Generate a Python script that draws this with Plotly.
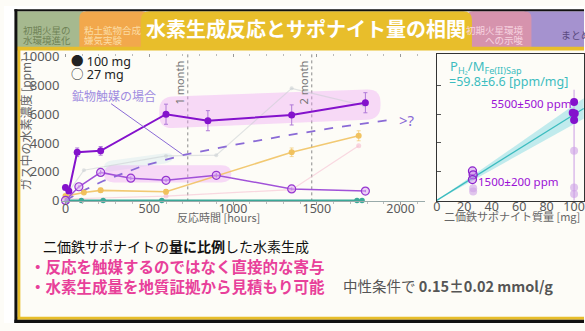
import plotly.graph_objects as go

W, H = 585, 331

# ---------------- data ----------------
# H2 concentration vs. reaction time
t_100 = [0, 20, 70, 210, 600, 850, 1350, 1790]
h2_100 = [900, 650, 3350, 3450, 6000, 5550, 5950, 6800]
err_100 = [150, 150, 300, 300, 700, 700, 700, 700]

t_27 = [0, 80, 210, 390, 600, 900, 1350, 1790]
h2_27 = [0, 950, 1950, 1550, 1400, 1750, 800, 650]
err_27 = [60, 100, 150, 120, 120, 150, 100, 80]

t_or = [0, 110, 210, 600, 1350, 1750]
h2_or = [300, 550, 700, 600, 3350, 4500]
err_or = [100, 100, 150, 150, 300, 350]

t_teal = [10, 95, 225, 575, 1740, 1770]
h2_teal = [0, 0, 0, 0, 0, 0]

t_gray = [0, 110, 600, 900, 1350, 1780]
h2_gray = [300, 2100, 3100, 3150, 7800, 6600]

t_pink = [0, 600, 1350, 1750]
h2_pink = [100, 300, 750, 3800]

# mineral-catalysis case (schematic)
t_cat = [0, 100, 225, 450, 700, 1000, 1300, 1600, 1950]
h2_cat = [0, 650, 1350, 2350, 3150, 3850, 4480, 5050, 5620]

month_t = [730, 1470]
month_labels = ["1 month", "2 month"]

x_ticks = [0, 500, 1000, 1500, 2000]
y_ticks = [0, 2000, 4000, 6000, 8000, 10000]
y_ticktext = ["0", "2000", "4000", "6000", "8000", "10000"]
m_ticks = [0, 20, 40, 60, 80, 100]

# H2 concentration vs. Fe(II)-saponite mass
mass_100 = [100, 99, 100.5, 100]
h2m_100 = [6850, 6100, 6050, 5600]
mass_27 = [26, 26.5, 26]
h2m_27 = [2050, 1780, 1450]
mass_faint = [26.5, 26.5, 100, 100, 100]
h2m_faint = [850, 620, 3450, 900, 450]
faint_err_up = [0, 0, 4250, 0, 0]
faint_err_dn = [0, 0, 3450, 0, 0]
slope, slope_err = 59.8, 6.6
mass_fit = [0, 107]

# ---------------- geometry helpers ----------------
def px(x):
    return x / W


def py(y):
    return 1 - y / H


T0, SX = 62.0, 0.169     # left panel: pixel of t=0, pixels per hour
Y0, SY = 203.0, 0.015    # pixel of 0 ppm, pixels per ppm


def p2d(x, y):
    return ((x - T0) / SX, (Y0 - y) / SY)


def d2p(t, v):
    return (T0 + t * SX, Y0 - v * SY)


def rounded_path(pts, r, conv):
    """Closed path with rounded corners; pts in pixels, conv maps pixel->output coords."""
    n = len(pts)
    out = []

    def mv(src, dst):
        dx, dy = dst[0] - src[0], dst[1] - src[1]
        d = (dx * dx + dy * dy) ** 0.5 or 1
        k = min(r, d / 2) / d
        return (src[0] + dx * k, src[1] + dy * k)

    for i in range(n):
        p = pts[i]
        out.append((mv(p, pts[i - 1]), p, mv(p, pts[(i + 1) % n])))
    f = lambda q: "%.3f,%.3f" % conv(*q)
    s = "M " + f(out[0][0])
    for i, (a, p, b) in enumerate(out):
        if i > 0:
            s += " L " + f(a)
        s += " Q " + f(p) + " " + f(b)
    return s + " Z"


def paper_conv(x, y):
    return (px(x), py(y))


def tab_path(x0, y0, x1, y1, r):
    """Header tab with rounded top corners (pixel coords -> paper)."""
    f = lambda q: "%.4f,%.4f" % paper_conv(*q)
    return ("M " + f((x0, y1)) + " L " + f((x0, y0 + r)) + " Q " + f((x0, y0)) + " " + f((x0 + r, y0)) +
            " L " + f((x1 - r, y0)) + " Q " + f((x1, y0)) + " " + f((x1, y0 + r)) +
            " L " + f((x1, y1)) + " Z")


FONT = "Noto Sans, Noto Sans CJK JP, sans-serif"
JFONT = "Noto Sans CJK JP, Noto Sans, sans-serif"
GRAY = "#5a5a5a"

fig = go.Figure()

# ---------------- traces: time series ----------------
fig.add_trace(go.Scatter(x=t_gray, y=h2_gray, mode="lines+markers",
                         line=dict(color="rgba(200,205,210,0.55)", width=1.2),
                         marker=dict(size=4, color="rgba(200,205,210,0.55)")))
fig.add_trace(go.Scatter(x=t_pink, y=h2_pink, mode="lines+markers",
                         line=dict(color="rgba(245,185,205,0.55)", width=1.2),
                         marker=dict(size=5, color="rgba(245,185,205,0.6)")))
fig.add_trace(go.Scatter(x=t_cat, y=h2_cat, mode="lines",
                         line=dict(color="#8a6ad6", width=1.8, dash="dash")))
fig.add_trace(go.Scatter(x=t_or, y=h2_or, mode="lines+markers",
                         line=dict(color="rgba(240,192,90,0.85)", width=1.6),
                         marker=dict(size=6, color="rgba(240,192,90,0.95)"),
                         error_y=dict(type="data", array=err_or, color="rgba(240,192,90,0.6)",
                                      thickness=1, width=2)))
fig.add_trace(go.Scatter(x=t_teal, y=h2_teal, mode="lines+markers",
                         line=dict(color="#3aa898", width=1.6),
                         marker=dict(size=5.5, color="#3aa898"), cliponaxis=False))
fig.add_trace(go.Scatter(x=t_27, y=h2_27, mode="lines+markers",
                         line=dict(color="#a152d8", width=1.5),
                         marker=dict(size=8, color="rgba(222,175,245,0.55)",
                                     line=dict(color="#9636d0", width=1.2)),
                         error_y=dict(type="data", array=err_27, color="#9636d0",
                                      thickness=1, width=0), cliponaxis=False))
fig.add_trace(go.Scatter(x=t_100, y=h2_100, mode="lines+markers",
                         line=dict(color="#8412cc", width=2),
                         marker=dict(size=7, color="#8412cc"),
                         error_y=dict(type="data", array=err_100, color="#b07ad8",
                                      thickness=1, width=2)))

# ---------------- traces: mass correlation ----------------
xf = mass_fit + mass_fit[::-1]
yf = [m * (slope + slope_err) for m in mass_fit] + [m * (slope - slope_err) for m in mass_fit[::-1]]
fig.add_trace(go.Scatter(x=xf, y=yf, xaxis="x2", yaxis="y2", mode="lines", fill="toself",
                         fillcolor="rgba(120,215,225,0.45)", line=dict(width=0),
                         hoverinfo="skip"))
fig.add_trace(go.Scatter(x=mass_fit, y=[m * slope for m in mass_fit], xaxis="x2", yaxis="y2",
                         mode="lines", line=dict(color="#3cbcbf", width=1.3)))
fig.add_trace(go.Scatter(x=mass_faint, y=h2m_faint, xaxis="x2", yaxis="y2", mode="markers",
                         marker=dict(size=8, color="rgba(205,160,230,0.6)"),
                         error_y=dict(type="data", array=faint_err_up, arrayminus=faint_err_dn,
                                      color="rgba(205,160,230,0.7)", thickness=1.5, width=0)))
fig.add_trace(go.Scatter(x=mass_27, y=h2m_27, xaxis="x2", yaxis="y2", mode="markers",
                         marker=dict(size=8, color="rgba(200,140,235,0.5)",
                                     line=dict(color="#8a20cc", width=1.3))))
fig.add_trace(go.Scatter(x=mass_100, y=h2m_100, xaxis="x2", yaxis="y2", mode="markers",
                         marker=dict(size=8, color="#8412cc")))

# ---------------- axes ----------------
XR = [p2d(57, 0)[0], p2d(425, 0)[0]]
YR = [p2d(0, 204)[1], p2d(0, 50)[1]]
ydom = [py(204), py(50)]

fig.update_layout(
    width=W, height=H, margin=dict(l=0, r=0, t=0, b=0),
    paper_bgcolor="#fdfcf7", plot_bgcolor="rgba(0,0,0,0)",
    showlegend=False,
    font=dict(family=FONT, color=GRAY),
    xaxis=dict(domain=[px(57), px(425)], range=XR, anchor="y",
               tickvals=x_ticks, ticks="outside", ticklen=3, tickcolor="#999",
               minor=dict(dtick=100, ticks="outside", ticklen=2, tickcolor="#bbb"),
               showline=True, linecolor="#9aa", linewidth=1,
               showgrid=False, zeroline=False, ticklabelstandoff=-7,
               tickfont=dict(size=12.5, color=GRAY, family=FONT)),
    xaxis3=dict(overlaying="x", matches="x", side="top", anchor="y", range=XR,
                showticklabels=False, tickvals=x_ticks, ticks="inside", ticklen=3,
                tickcolor="#999", minor=dict(dtick=100, ticks="inside", ticklen=2, tickcolor="#bbb"),
                showline=False, showgrid=False, zeroline=False),
    yaxis=dict(domain=ydom, range=YR, anchor="x", tickvals=y_ticks, ticktext=y_ticktext,
               ticks="", showline=False, showgrid=False, zeroline=False,
               tickfont=dict(size=13, color=GRAY, family=FONT)),
    xaxis2=dict(domain=[px(436.5), 1.0], range=[0, (585 - 436.5) / 1.385], anchor="y2",
                tickvals=m_ticks, ticks="", showline=True, linecolor="#333", linewidth=1.3,
                mirror=True, showgrid=False, zeroline=False, ticklabelstandoff=-7,
                tickfont=dict(size=12.5, color=GRAY, family=FONT)),
    yaxis2=dict(domain=ydom, range=YR, anchor="x2", tickvals=y_ticks[1:-1],
                showticklabels=False, ticks="inside", ticklen=4, tickcolor="#555",
                showline=True, linecolor="#333", linewidth=1.3, mirror=True,
                showgrid=False, zeroline=False),
)
# invisible trace to activate the top tick axis
fig.add_trace(go.Scatter(x=[0], y=[0], xaxis="x3", yaxis="y", mode="markers",
                         marker=dict(size=1, color="rgba(0,0,0,0)"), hoverinfo="skip"))

shapes = []

# white margins outside the slide
shapes.append(dict(type="rect", xref="paper", yref="paper", x0=0, x1=px(11), y0=0, y1=1,
                   fillcolor="white", line=dict(width=0), layer="below"))
shapes.append(dict(type="rect", xref="paper", yref="paper", x0=0, x1=1, y0=py(4), y1=1,
                   fillcolor="white", line=dict(width=0), layer="below"))

# highlight bands behind the data
band_fill = "rgba(236,160,245,0.38)"
b1 = [d2p(560, 5000), d2p(560, 7200), d2p(1880, 7750), d2p(1880, 5650)]
b2 = [d2p(230, 1250), d2p(230, 2450), d2p(990, 2450), d2p(990, 1250)]
b3 = [d2p(230, 1950), d2p(230, 2700), d2p(640, 3350), d2p(640, 2650)]
shapes.append(dict(type="path", xref="x", yref="y", path=rounded_path(b3, 8, p2d),
                   fillcolor="rgba(200,225,235,0.3)", line=dict(width=0), layer="below"))
shapes.append(dict(type="path", xref="x", yref="y", path=rounded_path(b1, 14, p2d),
                   fillcolor=band_fill, line=dict(width=0), layer="below"))
shapes.append(dict(type="path", xref="x", yref="y", path=rounded_path(b2, 10, p2d),
                   fillcolor=band_fill, line=dict(width=0), layer="below"))

# one / two month markers
for mt in month_t:
    shapes.append(dict(type="line", xref="x", yref="paper", x0=mt, x1=mt, y0=ydom[0], y1=ydom[1],
                       line=dict(color="#8a8a8a", width=1, dash="dot"), layer="below"))

# leader line for the catalysis label
la = p2d(108, 102)
lb = p2d(180, 155)
shapes.append(dict(type="line", xref="x", yref="y", x0=la[0], y0=la[1], x1=lb[0], y1=lb[1],
                   line=dict(color="#8a6ad6", width=1)))

# header tabs
shapes.append(dict(type="rect", xref="paper", yref="paper", x0=px(13), x1=px(80), y0=py(44), y1=py(5.5),
                   fillcolor="#a6b98f", line=dict(width=0)))
shapes.append(dict(type="path", xref="paper", yref="paper", path=tab_path(76, 5.5, 146, 44, 7),
                   fillcolor="#f2a84c", line=dict(width=0)))
shapes.append(dict(type="rect", xref="paper", yref="paper", x0=px(525), x1=1, y0=py(44), y1=py(5.5),
                   fillcolor="#a592cf", line=dict(width=0)))
shapes.append(dict(type="path", xref="paper", yref="paper", path=tab_path(466, 5.5, 532, 44, 7),
                   fillcolor="#d693ad", line=dict(width=0)))
shapes.append(dict(type="path", xref="paper", yref="paper", path=tab_path(138, 5.5, 472, 44, 9),
                   fillcolor="#e8be2b", line=dict(width=0)))

# yellow inner frame and black outer frame
shapes.append(dict(type="rect", xref="paper", yref="paper", x0=px(13), x1=1, y0=py(46.5), y1=py(42.5),
                   fillcolor="#e8be2b", line=dict(width=0)))
shapes.append(dict(type="rect", xref="paper", yref="paper", x0=px(13.5), x1=px(16.5), y0=py(327), y1=py(42.5),
                   fillcolor="#e8be2b", line=dict(width=0)))
shapes.append(dict(type="rect", xref="paper", yref="paper", x0=px(13), x1=1, y0=py(327.5), y1=py(324.5),
                   fillcolor="#e8be2b", line=dict(width=0)))
shapes.append(dict(type="rect", xref="paper", yref="paper", x0=px(10.5), x1=px(13.5), y0=0, y1=py(3.5),
                   fillcolor="#111", line=dict(width=0)))
shapes.append(dict(type="rect", xref="paper", yref="paper", x0=px(10.5), x1=1, y0=py(5.5), y1=py(3.5),
                   fillcolor="#111", line=dict(width=0)))
shapes.append(dict(type="rect", xref="paper", yref="paper", x0=px(10.5), x1=1, y0=0, y1=py(327.5),
                   fillcolor="#111", line=dict(width=0)))

fig.update_layout(shapes=shapes)

# ---------------- text ----------------
ann = []


def txt(x, y, s, size, color, xanchor="left", family=JFONT, angle=0, yanchor="middle"):
    ann.append(dict(x=px(x), y=py(y), xref="paper", yref="paper", text=s, showarrow=False,
                    xanchor=xanchor, yanchor=yanchor, textangle=angle,
                    font=dict(size=size, color=color, family=family)))


# header tab labels
txt(17, 25, "初期火星の", 9.5, "#6f8256")
txt(17, 36, "水環境進化", 9.5, "#6f8256")
txt(79, 25, "粘土鉱物合成", 9.5, "#fbdca4")
txt(79, 36, "嫌気実験", 9.5, "#fbdca4")
txt(305, 24, "<b>水素生成反応とサポナイト量の相関</b>", 20, "white", xanchor="center")
txt(526, 25, "初期火星環境", 9.5, "#f7d3e0", xanchor="right")
txt(526, 36, "への示唆", 9.5, "#f7d3e0", xanchor="right")
txt(560, 30, "まとめ", 10, "#5b4a80")

# axis titles
txt(22, 123, "ガス中の水素濃度 [ppm]", 12, "#666", xanchor="center", angle=-90)
txt(216, 220, "反応時間 [hours]", 11, "#666", xanchor="center")
txt(512, 219, "二価鉄サポナイト質量 [mg]", 11, "#666", xanchor="center")

# legend
txt(66, 58, "● 100 mg", 12.5, "#222", family=FONT)
txt(66, 72, "○ 27 mg", 12.5, "#222", family=FONT)

# in-plot labels
txt(67, 93, "鉱物触媒の場合", 12, "#a08ce0")
for mt, lab in zip(month_t, month_labels):
    xm = d2p(mt, 0)[0]
    txt(xm - 8, 80, lab, 11, "#777", xanchor="center", family=FONT, angle=-90)
txt(d2p(t_cat[-1], 0)[0] + 5, 119, ">?", 15, "#8a6ad6", family=FONT)

txt(448, 64, "P<sub>H₂</sub>/M<sub>Fe(II)Sap</sub>", 13, "#3cbcbf", family=FONT)
txt(447, 79, "=59.8±6.6 [ppm/mg]", 12.5, "#3cbcbf", family=FONT)
txt(489, 102, "5500±500 ppm", 11.5, "#9b10d6", family=FONT)
txt(476, 183, "1500±200 ppm", 11.5, "#9b10d6", family=FONT)

# summary text
txt(37, 251, "二価鉄サポナイトの<b>量に比例</b>した水素生成", 14, "#111")
txt(24, 272, "<b>・反応を触媒するのではなく直接的な寄与</b>", 15.5, "#e8409a")
txt(24, 292, "<b>・水素生成量を地質証拠から見積もり可能</b>", 15.5, "#e8409a")
txt(340, 292, "中性条件で <b>0.15±0.02 mmol/g</b>", 14.5, "#555")

fig.update_layout(annotations=ann)

fig.write_html("out.html")
